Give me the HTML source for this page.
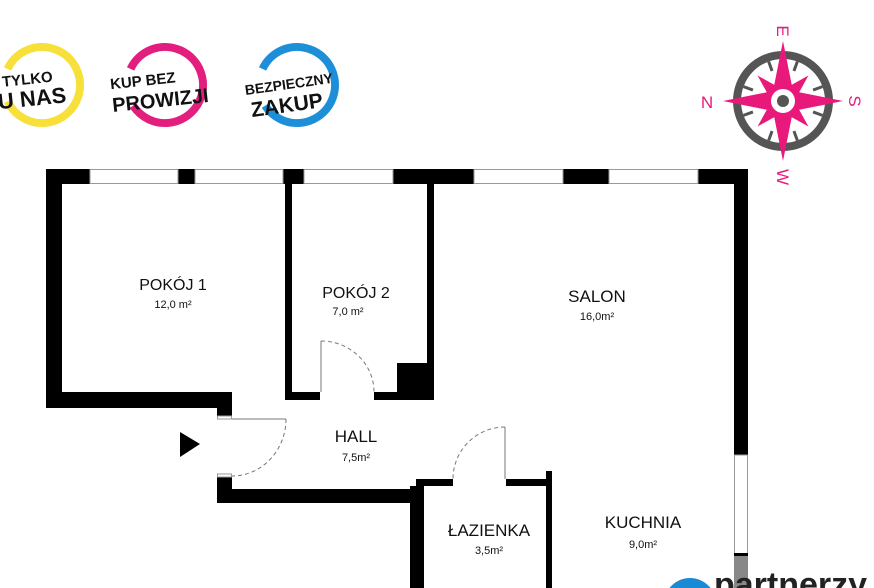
<!DOCTYPE html>
<html><head><meta charset="utf-8"><style>
html,body{margin:0;padding:0;background:#fff;width:874px;height:588px;overflow:hidden;}
svg{display:block;}
text{font-family:"Liberation Sans","DejaVu Sans",sans-serif;}
</style></head><body>
<svg width="874" height="588" viewBox="0 0 874 588" xmlns="http://www.w3.org/2000/svg">
<rect width="874" height="588" fill="#fff"/>
<!-- badges -->
<circle cx="42" cy="85" r="38" fill="none" stroke="#f8e03a" stroke-width="8" stroke-dasharray="205 34" transform="rotate(205 42 85)"/>
<text x="2" y="84" font-size="15" font-weight="bold" fill="#111" transform="rotate(-6 30 80)">TYLKO</text>
<text x="-2" y="106" font-size="22" font-weight="bold" fill="#111" transform="rotate(-6 30 100)">U NAS</text>
<circle cx="165" cy="85" r="38" fill="none" stroke="#e21e7f" stroke-width="8" stroke-dasharray="200 39" transform="rotate(205 165 85)"/>
<text x="110" y="84" font-size="15" font-weight="bold" fill="#111" transform="rotate(-6 160 80)">KUP BEZ</text>
<text x="112" y="107" font-size="20" font-weight="bold" fill="#111" transform="rotate(-6 160 100)">PROWIZJI</text>
<circle cx="297" cy="85" r="38" fill="none" stroke="#1d8fd8" stroke-width="8" stroke-dasharray="200 39" transform="rotate(205 297 85)"/>
<text x="244" y="88" font-size="14" font-weight="bold" fill="#111" transform="rotate(-8 295 80)">BEZPIECZNY</text>
<text x="250" y="111" font-size="21" font-weight="bold" fill="#111" transform="rotate(-8 295 100)">ZAKUP</text>
<!-- compass -->
<g transform="translate(783,101)">
<circle r="46" fill="none" stroke="#555" stroke-width="8"/>
<g stroke="#555" stroke-width="3">
<line x1="0" y1="-42" x2="0" y2="-32" transform="rotate(20)"/><line x1="0" y1="-42" x2="0" y2="-32" transform="rotate(70)"/>
<line x1="0" y1="-42" x2="0" y2="-32" transform="rotate(110)"/><line x1="0" y1="-42" x2="0" y2="-32" transform="rotate(160)"/>
<line x1="0" y1="-42" x2="0" y2="-32" transform="rotate(200)"/><line x1="0" y1="-42" x2="0" y2="-32" transform="rotate(250)"/>
<line x1="0" y1="-42" x2="0" y2="-32" transform="rotate(290)"/><line x1="0" y1="-42" x2="0" y2="-32" transform="rotate(340)"/>
</g>
<polygon points="0,-36 8,-8 36,0 8,8 0,36 -8,8 -36,0 -8,-8" fill="#e8197a" transform="rotate(45)"/>
<polygon points="0,-60 10,-10 60,0 10,10 0,60 -10,10 -60,0 -10,-10" fill="#e8197a"/>
<circle r="12" fill="#fff"/><circle r="6" fill="#555"/>
<text x="0" y="-64" font-size="17" fill="#e8197a" text-anchor="middle" transform="rotate(90 0 -70)">E</text>
<text x="-76" y="7" font-size="17" fill="#e8197a" text-anchor="middle">N</text>
<text x="72" y="6" font-size="17" fill="#e8197a" text-anchor="middle" transform="rotate(90 72 0)">S</text>
<text x="0" y="82" font-size="17" fill="#e8197a" text-anchor="middle" transform="rotate(90 0 76)">W</text>
</g>
<!-- walls -->
<g fill="#000">
<rect x="46" y="169" width="702" height="15"/>
<rect x="46" y="169" width="16" height="239"/>
<rect x="46" y="392" width="186" height="16"/>
<rect x="217" y="392" width="15" height="24"/>
<rect x="285" y="184" width="7" height="216"/>
<rect x="285" y="392" width="35" height="8"/>
<rect x="374" y="392" width="60" height="8"/>
<rect x="427" y="184" width="7" height="216"/>
<rect x="397" y="363" width="37" height="37"/>
<rect x="734" y="169" width="14" height="286"/>
<rect x="217" y="477" width="15" height="26"/>
<rect x="217" y="489" width="207" height="14"/>
<rect x="416" y="479" width="37" height="7"/>
<rect x="410" y="486" width="14" height="102"/>
<rect x="506" y="479" width="46" height="7"/>
<rect x="546" y="471" width="6" height="117"/>
</g>
<!-- windows -->
<g fill="#fff" stroke="#999" stroke-width="1">
<rect x="90" y="169.5" width="88" height="14"/>
<rect x="195" y="169.5" width="88" height="14"/>
<rect x="304" y="169.5" width="89" height="14"/>
<rect x="474" y="169.5" width="89" height="14"/>
<rect x="609" y="169.5" width="89" height="14"/>
<rect x="734.5" y="455" width="13" height="100"/>
<rect x="217.5" y="416" width="14" height="3"/>
<rect x="217.5" y="474" width="14" height="3"/>
</g>
<rect x="734" y="556" width="14" height="32" fill="#888"/>
<rect x="734" y="553" width="14" height="3" fill="#000"/>
<!-- doors -->
<g fill="none" stroke="#777" stroke-width="1">
<line x1="321" y1="341" x2="321" y2="392"/>
<path d="M321 341 A53 51 0 0 1 374 392" stroke-dasharray="4 3"/>
<line x1="232" y1="419" x2="286" y2="419"/>
<path d="M286 419 A54 57 0 0 1 232 476" stroke-dasharray="4 3"/>
<line x1="505" y1="427" x2="505" y2="479"/>
<path d="M505 427 A52 52 0 0 0 453 479" stroke-dasharray="4 3"/>
</g>
<polygon points="180,432 200,444 180,457" fill="#000"/>
<!-- labels -->
<g fill="#111" text-anchor="middle">
<text x="173" y="290" font-size="16">POKÓJ 1</text>
<text x="173" y="308" font-size="11">12,0 m²</text>
<text x="356" y="298" font-size="16">POKÓJ 2</text>
<text x="348" y="315" font-size="11">7,0 m²</text>
<text x="597" y="302" font-size="17">SALON</text>
<text x="597" y="320" font-size="11">16,0m²</text>
<text x="356" y="442" font-size="17">HALL</text>
<text x="356" y="461" font-size="11">7,5m²</text>
<text x="489" y="536" font-size="17">ŁAZIENKA</text>
<text x="489" y="554" font-size="11">3,5m²</text>
<text x="643" y="528" font-size="17">KUCHNIA</text>
<text x="643" y="548" font-size="11">9,0m²</text>
</g>
<!-- logo -->
<circle cx="690" cy="604" r="26" fill="#1a8ad4"/>
<text x="714" y="596" font-size="34" font-weight="bold" fill="#222">partnerzy</text>
</svg>
</body></html>
